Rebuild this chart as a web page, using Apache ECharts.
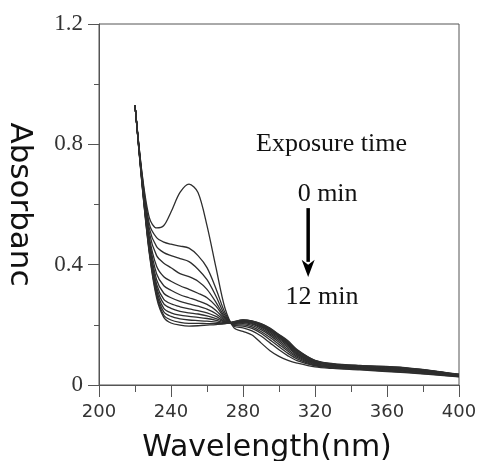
<!DOCTYPE html>
<html>
<head>
<meta charset="utf-8">
<script src="https://cdn.jsdelivr.net/npm/echarts@6/dist/echarts.min.js"></script>
<style>
html,body{margin:0;padding:0;background:#fff;}
#main{width:480px;height:461px;}
</style>
</head>
<body>
<div id="main"></div>
<script>
// Wavelengths (nm)
var wavelengths = [220,224,228,232,236,240,245,250,255,260,265,270,275,280,285,290,295,300,305,310,320,330,345,370,400];
// Absorbance curves, exposure 0 .. 12 min
var t0  = [0.93,0.700,0.555,0.522,0.530,0.575,0.640,0.668,0.640,0.530,0.390,0.255,0.190,0.178,0.166,0.140,0.114,0.095,0.082,0.073,0.060,0.055,0.050,0.041,0.027];
var t1  = [0.93,0.695,0.535,0.490,0.475,0.468,0.462,0.455,0.430,0.390,0.320,0.240,0.195,0.190,0.180,0.163,0.140,0.117,0.097,0.081,0.064,0.057,0.052,0.043,0.028];
var t2  = [0.93,0.690,0.520,0.460,0.440,0.430,0.420,0.410,0.385,0.350,0.295,0.232,0.198,0.196,0.188,0.172,0.150,0.127,0.105,0.087,0.066,0.059,0.054,0.045,0.029];
var t3  = [0.93,0.685,0.505,0.430,0.405,0.390,0.370,0.360,0.345,0.318,0.275,0.226,0.200,0.200,0.193,0.178,0.158,0.135,0.112,0.092,0.068,0.060,0.055,0.046,0.030];
var t4  = [0.93,0.680,0.490,0.395,0.360,0.345,0.330,0.318,0.305,0.290,0.262,0.222,0.202,0.204,0.198,0.184,0.165,0.142,0.118,0.096,0.070,0.062,0.057,0.048,0.030];
var t5  = [0.93,0.678,0.480,0.370,0.330,0.315,0.300,0.290,0.280,0.268,0.248,0.218,0.204,0.207,0.202,0.189,0.170,0.148,0.124,0.100,0.072,0.063,0.058,0.050,0.031];
var t6  = [0.93,0.675,0.470,0.350,0.305,0.290,0.278,0.270,0.262,0.252,0.237,0.214,0.205,0.209,0.205,0.193,0.175,0.153,0.129,0.103,0.074,0.065,0.059,0.051,0.032];
var t7  = [0.93,0.672,0.462,0.335,0.285,0.270,0.260,0.253,0.247,0.240,0.228,0.211,0.206,0.211,0.207,0.196,0.179,0.157,0.133,0.106,0.076,0.066,0.060,0.053,0.033];
var t8  = [0.93,0.670,0.455,0.325,0.270,0.255,0.245,0.240,0.236,0.230,0.221,0.209,0.207,0.213,0.209,0.198,0.182,0.160,0.136,0.109,0.077,0.067,0.061,0.054,0.033];
var t9  = [0.93,0.668,0.450,0.315,0.255,0.240,0.232,0.228,0.225,0.221,0.215,0.207,0.208,0.214,0.210,0.200,0.184,0.163,0.139,0.112,0.079,0.068,0.062,0.055,0.034];
var t10 = [0.93,0.665,0.445,0.305,0.243,0.228,0.220,0.216,0.214,0.212,0.209,0.205,0.209,0.215,0.211,0.201,0.186,0.165,0.141,0.114,0.080,0.069,0.063,0.056,0.035];
var t11 = [0.93,0.662,0.440,0.298,0.232,0.216,0.208,0.205,0.205,0.204,0.204,0.204,0.210,0.216,0.212,0.203,0.188,0.167,0.144,0.116,0.081,0.070,0.064,0.057,0.035];
var t12 = [0.93,0.660,0.435,0.290,0.225,0.206,0.199,0.196,0.197,0.199,0.201,0.204,0.211,0.216,0.213,0.204,0.189,0.168,0.147,0.118,0.082,0.071,0.065,0.058,0.036];
var curves = [t0,t1,t2,t3,t4,t5,t6,t7,t8,t9,t10,t11,t12];
var curveNames = ['0 min','1 min','2 min','3 min','4 min','5 min','6 min','7 min','8 min','9 min','10 min','11 min','12 min'];

// Axis ticks
var xTicks = [200,240,280,320,360,400];
var yTicks = [0,0.4,0.8,1.2];

// Annotation texts
var annTitle = 'Exposure time';
var annStart = '0 min';
var annEnd = '12 min';

var chart = echarts.init(document.getElementById('main'), null, {renderer:'canvas'});

var series = curves.map(function(c, i){
  return {
    name: curveNames[i],
    type: 'line',
    data: wavelengths.map(function(w, j){ return [w, c[j]]; }),
    showSymbol: false,
    symbol: 'none',
    smooth: 0.3,
    lineStyle: {color: '#2e2e2e', width: 1.3},
    silent: true
  };
});

var axisColor = '#555';
var option = {
  animation: false,
  backgroundColor: '#fff',
  grid: {left: 99, right: 21, top: 24, bottom: 76, show: true, borderColor: axisColor, borderWidth: 1,
         containLabel: false, outerBoundsMode: 'none'},
  xAxis: {
    type: 'value', min: xTicks[0], max: xTicks[xTicks.length-1], interval: 40,
    axisLine: {lineStyle: {color: axisColor, width: 1}},
    axisTick: {length: 12, lineStyle: {color: axisColor}},
    minorTick: {show: true, splitNumber: 2, length: 7, lineStyle: {color: axisColor}},
    splitLine: {show: false},
    axisLabel: {margin: 18, fontFamily: 'DejaVu Sans', fontSize: 18, color: '#333'},
    name: 'Wavelength(nm)', nameLocation: 'middle', nameGap: 48,
    nameTextStyle: {fontFamily: 'DejaVu Sans', fontSize: 30, color: '#111', padding: [0, 24, 0, 0]}
  },
  yAxis: {
    type: 'value', min: 0, max: 1.2, interval: 0.4,
    axisLine: {lineStyle: {color: axisColor, width: 1}},
    axisTick: {length: 11, lineStyle: {color: axisColor}},
    minorTick: {show: true, splitNumber: 2, length: 5, lineStyle: {color: axisColor}},
    splitLine: {show: false},
    axisLabel: {margin: 16, fontFamily: 'Liberation Serif', fontSize: 23, color: '#333',
      formatter: function(v){ return v === 0 ? '0' : v.toFixed(1); }},
    name: 'Absorbanc', nameLocation: 'middle', nameGap: 64, nameRotate: -90,
    nameTextStyle: {fontFamily: 'DejaVu Sans', fontSize: 31, color: '#111', padding: [0, 0, 0, 0]}
  },
  series: series
};
chart.setOption(option);

// Annotation placed in data coordinates
function px(x, y){ return chart.convertToPixel({gridIndex: 0}, [x, y]); }
var pTitle = px(329.2, 0.801);
var pStart = px(327.0, 0.635);
var pEnd = px(323.9, 0.291);
var aTop = px(316.2, 0.588);
var aHead = px(316.2, 0.416);
var aTip = px(316.2, 0.359);
var serif = {fontFamily: 'Liberation Serif', fontSize: 26, fill: '#111', align: 'center', verticalAlign: 'middle'};
chart.setOption({
  graphic: [
    {type: 'text', x: pTitle[0], y: pTitle[1], style: Object.assign({text: annTitle}, serif)},
    {type: 'text', x: pStart[0], y: pStart[1], style: Object.assign({text: annStart}, serif)},
    {type: 'text', x: pEnd[0], y: pEnd[1], style: Object.assign({text: annEnd}, serif)},
    {type: 'line', shape: {x1: aTop[0], y1: aTop[1], x2: aHead[0], y2: aHead[1] + 2}, style: {stroke: '#000', lineWidth: 3.5}},
    {type: 'polygon', shape: {points: [[aHead[0]-6.5, aHead[1]], [aHead[0], aHead[1]+5], [aHead[0]+6.5, aHead[1]], [aTip[0], aTip[1]]]}, style: {fill: '#000'}}
  ]
});
</script>
</body>
</html>
